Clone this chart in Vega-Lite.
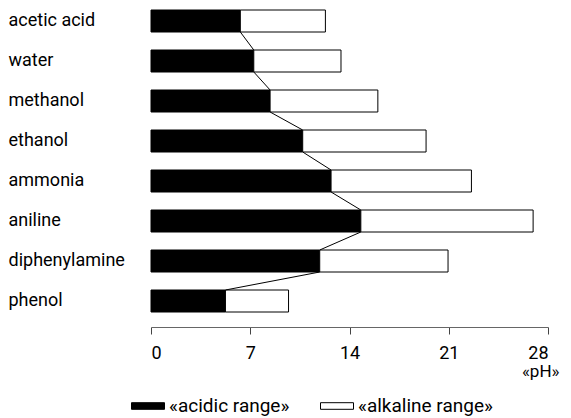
{
  "$schema": "https://vega.github.io/schema/vega-lite/v6.json",
  "width": 397,
  "height": 322,
  "autosize": {"type": "none"},
  "padding": {"left": 151, "top": 0, "right": 23, "bottom": 96},
  "config": {
    "view": {"stroke": null},
    "font": "Roboto",
    "axis": {"labelFont": "Roboto", "titleFont": "Roboto"},
    "legend": {"labelFont": "Roboto"}
  },
  "layer": [
    {
      "data": {
        "values": [
          {"name": "acetic acid", "range": "«acidic range»", "from": 0, "to": 6.3},
          {"name": "acetic acid", "range": "«alkaline range»", "from": 6.3, "to": 12.3},
          {"name": "water", "range": "«acidic range»", "from": 0, "to": 7.25},
          {"name": "water", "range": "«alkaline range»", "from": 7.25, "to": 13.4},
          {"name": "methanol", "range": "«acidic range»", "from": 0, "to": 8.4},
          {"name": "methanol", "range": "«alkaline range»", "from": 8.4, "to": 16.0},
          {"name": "ethanol", "range": "«acidic range»", "from": 0, "to": 10.7},
          {"name": "ethanol", "range": "«alkaline range»", "from": 10.7, "to": 19.4},
          {"name": "ammonia", "range": "«acidic range»", "from": 0, "to": 12.7},
          {"name": "ammonia", "range": "«alkaline range»", "from": 12.7, "to": 22.6},
          {"name": "aniline", "range": "«acidic range»", "from": 0, "to": 14.8},
          {"name": "aniline", "range": "«alkaline range»", "from": 14.8, "to": 26.95},
          {"name": "diphenylamine", "range": "«acidic range»", "from": 0, "to": 11.9},
          {"name": "diphenylamine", "range": "«alkaline range»", "from": 11.9, "to": 20.95},
          {"name": "phenol", "range": "«acidic range»", "from": 0, "to": 5.25},
          {"name": "phenol", "range": "«alkaline range»", "from": 5.25, "to": 9.7}
        ]
      },
      "mark": {"type": "bar", "stroke": "#000", "strokeWidth": 1, "cornerRadius": 0},
      "encoding": {
        "y": {
          "field": "name",
          "type": "nominal",
          "scale": {
            "domain": ["acetic acid", "water", "methanol", "ethanol", "ammonia", "aniline", "diphenylamine", "phenol"],
            "paddingInner": 0.45,
            "paddingOuter": 0.25
          },
          "axis": {
            "title": null,
            "domain": false,
            "ticks": false,
            "tickSize": 0,
            "labelAlign": "left",
            "labelPadding": 143,
            "labelFontSize": 18,
            "labelColor": "#000",
            "labelBound": false,
            "labelLimit": 200
          }
        },
        "x": {
          "field": "from",
          "type": "quantitative",
          "scale": {"domain": [0, 28], "nice": false},
          "axis": {
            "values": [0, 7, 14, 21, 28],
            "grid": false,
            "offset": 5,
            "domainColor": "#666",
            "domainWidth": 1,
            "tickColor": "#444",
            "tickSize": 7,
            "labelFontSize": 18,
            "labelColor": "#000",
            "labelPadding": 10,
            "title": "«pH»",
            "titleFontSize": 17,
            "titleFontWeight": "normal",
            "titleColor": "#000",
            "titleAlign": "right",
            "titleBaseline": "alphabetic",
            "titleX": 408,
            "titleY": 49
          }
        },
        "x2": {"field": "to"},
        "fill": {
          "field": "range",
          "type": "nominal",
          "scale": {"domain": ["«acidic range»", "«alkaline range»"], "range": ["#000000", "#ffffff"]},
          "legend": {
            "title": null,
            "orient": "none",
            "direction": "horizontal",
            "legendX": -20,
            "legendY": 389,
            "symbolType": "M-1,-0.2H1V0.2H-1Z",
            "symbolSize": 1089,
            "symbolStrokeColor": "#000",
            "symbolStrokeWidth": 1,
            "labelFontSize": 19,
            "labelColor": "#000",
            "labelOffset": 4,
            "columnPadding": 28,
            "labelLimit": 300
          }
        }
      }
    },
    {
      "data": {
        "values": [
          {"name": "acetic acid", "next": "water", "a": 6.3, "b": 7.25},
          {"name": "water", "next": "methanol", "a": 7.25, "b": 8.4},
          {"name": "methanol", "next": "ethanol", "a": 8.4, "b": 10.7},
          {"name": "ethanol", "next": "ammonia", "a": 10.7, "b": 12.7},
          {"name": "ammonia", "next": "aniline", "a": 12.7, "b": 14.8},
          {"name": "aniline", "next": "diphenylamine", "a": 14.8, "b": 11.9},
          {"name": "diphenylamine", "next": "phenol", "a": 11.9, "b": 5.25}
        ]
      },
      "mark": {"type": "rule", "color": "#000", "strokeWidth": 1},
      "encoding": {
        "y": {"field": "name", "type": "nominal", "bandPosition": 1},
        "y2": {"field": "next", "bandPosition": 0},
        "x": {"field": "a", "type": "quantitative"},
        "x2": {"field": "b"}
      }
    }
  ]
}
